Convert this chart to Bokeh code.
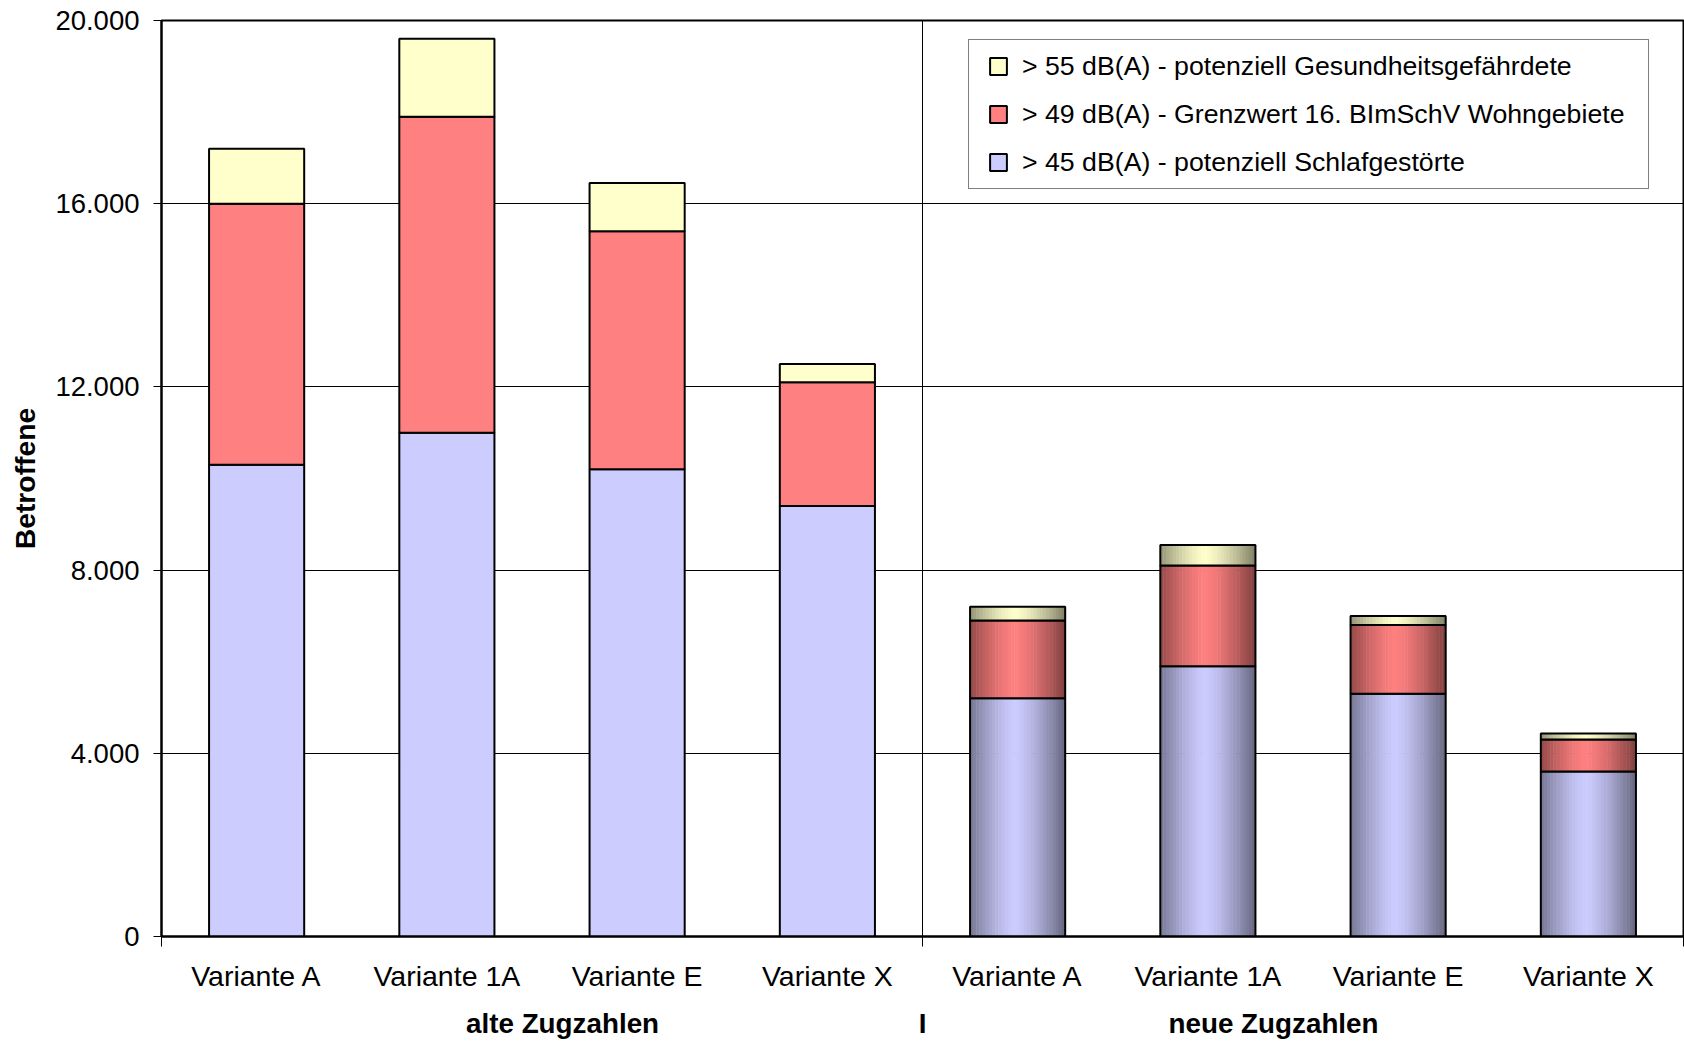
import numpy as np
from bokeh.plotting import figure
from bokeh.models import (Range1d, FixedTicker, LinearAxis, Span, Legend,
                          LegendItem, ColumnDataSource)
from bokeh.embed import file_html
from bokeh.resources import INLINE

# --- data -------------------------------------------------------------
varianten = ["Variante A", "Variante 1A", "Variante E", "Variante X"]
kategorien = varianten + varianten
gruppen = ["alte Zugzahlen", "I", "neue Zugzahlen"]
gruppen_pos = [2.108, 4.0, 5.845]

# stacked segment heights (Betroffene) per bar, bottom to top
schlafgestoerte = [10300, 11000, 10200, 9400, 5200, 5900, 5300, 3600]
grenzwert = [5700, 6900, 5200, 2700, 1700, 2200, 1500, 700]
gesundheit = [1200, 1700, 1050, 400, 300, 450, 200, 130]

serien = ["> 45 dB(A) - potenziell Schlafgestörte",
          "> 49 dB(A) - Grenzwert 16. BImSchV Wohngebiete",
          "> 55 dB(A) - potenziell Gesundheitsgefährdete"]
farben = ["#CCCCFF", "#FF8080", "#FFFFCC"]

y_ticks = [0, 4000, 8000, 12000, 16000, 20000]
y_labels = ["0", "4.000", "8.000", "12.000", "16.000", "20.000"]

FONT = "Liberation Sans"

# --- figure -----------------------------------------------------------
p = figure(width=1684, height=1042, x_range=Range1d(0, 8), y_range=Range1d(0, 20000),
           output_backend="svg", toolbar_location=None,
           min_border_left=161, min_border_right=1, min_border_top=20, min_border_bottom=106)
p.background_fill_color = "white"
p.border_fill_color = "white"
p.outline_line_color = "black"
p.outline_line_width = 2

xs = np.arange(len(kategorien)) + 0.5
bar_w = 0.5
layers = [schlafgestoerte, grenzwert, gesundheit]
tops = np.cumsum(np.array(layers, dtype=float), axis=0)
bottoms = tops - np.array(layers, dtype=float)

n_alt = len(varianten)


def shade(hex_color, f):
    r, g, b = (int(hex_color[i:i + 2], 16) for i in (1, 3, 5))
    return "#%02x%02x%02x" % (int(r * f), int(g * f), int(b * f))


# gradient strips for the "neue Zugzahlen" bars
n_strips = 30
strip_w = bar_w / n_strips
t = (np.arange(n_strips) + 0.5) / n_strips
factor = 1 - 0.5 * np.abs((t - 0.47) / 0.53) ** 1.4

for li, col in enumerate(farben):
    # plain bars (alte Zugzahlen)
    src = ColumnDataSource(dict(x=xs[:n_alt], bottom=bottoms[li][:n_alt], top=tops[li][:n_alt]))
    p.vbar(x="x", width=bar_w, bottom="bottom", top="top", source=src,
           fill_color=col, line_color="black", line_width=2)

    # shaded bars (neue Zugzahlen)
    sx, sb, st, sc = [], [], [], []
    for bi in range(n_alt, len(kategorien)):
        left = xs[bi] - bar_w / 2
        for k in range(n_strips):
            sx.append(left + (k + 0.5) * strip_w)
            sb.append(bottoms[li][bi])
            st.append(tops[li][bi])
            sc.append(shade(col, factor[k]))
    p.vbar(x=sx, width=strip_w * 1.15, bottom=sb, top=st, fill_color=sc, line_color=None)
    src2 = ColumnDataSource(dict(x=xs[n_alt:], bottom=bottoms[li][n_alt:], top=tops[li][n_alt:]))
    p.vbar(x="x", width=bar_w, bottom="bottom", top="top", source=src2,
           fill_color=None, line_color="black", line_width=2)

# separator between the two groups
p.add_layout(Span(location=n_alt, dimension="height", line_color="black", line_width=1))

# --- axes -------------------------------------------------------------
yax = p.yaxis[0]
yax.ticker = FixedTicker(ticks=y_ticks)
yax.major_label_overrides = {v: s for v, s in zip(y_ticks, y_labels)}
yax.major_tick_out = 8
yax.major_tick_in = 0
yax.minor_tick_line_color = None
yax.major_label_standoff = 14
yax.axis_line_width = 2
yax.axis_line_color = "black"
yax.major_tick_line_color = "black"
yax.major_label_text_font = FONT
yax.major_label_text_font_size = "27.5px"
yax.major_label_text_color = "black"
yax.axis_label = "Betroffene"
yax.axis_label_text_font = FONT
yax.axis_label_text_font_size = "28.3px"
yax.axis_label_text_font_style = "bold"
yax.axis_label_text_color = "black"
yax.axis_label_standoff = 11

xax = p.xaxis[0]
xax.ticker = FixedTicker(ticks=list(xs), minor_ticks=[0, n_alt, len(kategorien)])
xax.major_label_overrides = {float(x): k for x, k in zip(xs, kategorien)}
xax.major_tick_line_color = None
xax.major_tick_out = 0
xax.major_tick_in = 0
xax.minor_tick_out = 10
xax.minor_tick_in = 0
xax.minor_tick_line_color = "black"
xax.axis_line_width = 2
xax.axis_line_color = "black"
xax.major_label_standoff = 13
xax.major_label_text_font = FONT
xax.major_label_text_font_size = "28.5px"
xax.major_label_text_color = "black"

gax = LinearAxis(ticker=FixedTicker(ticks=gruppen_pos),
                 major_label_overrides={float(x): g for x, g in zip(gruppen_pos, gruppen)},
                 axis_line_color=None, major_tick_line_color=None, minor_tick_line_color=None,
                 major_tick_out=0, major_tick_in=0, major_label_standoff=13,
                 major_label_text_font=FONT, major_label_text_font_size="27.8px",
                 major_label_text_font_style="bold", major_label_text_color="black")
p.add_layout(gax, "below")

p.xgrid.visible = False
p.ygrid.grid_line_color = "black"
p.ygrid.grid_line_width = 1

# --- legend -----------------------------------------------------------
items = []
for name, col in zip(serien, farben):
    r = p.scatter(x=[float("nan")], y=[float("nan")], marker="square", size=17,
                  fill_color=col, line_color="black", line_width=2)
    items.append(LegendItem(label=name, renderers=[r]))
items = items[::-1]

legend = Legend(items=items, location=(807, 747), orientation="vertical",
                glyph_width=48, glyph_height=42, label_height=42, label_standoff=0,
                spacing=6, padding=5, margin=0, label_width=621,
                label_text_font=FONT, label_text_font_size="26.7px", label_text_color="black",
                border_line_color="black", border_line_width=1,
                background_fill_color="white", background_fill_alpha=1.0)
p.add_layout(legend, "center")

open("out.html", "w").write(file_html(p, INLINE))
